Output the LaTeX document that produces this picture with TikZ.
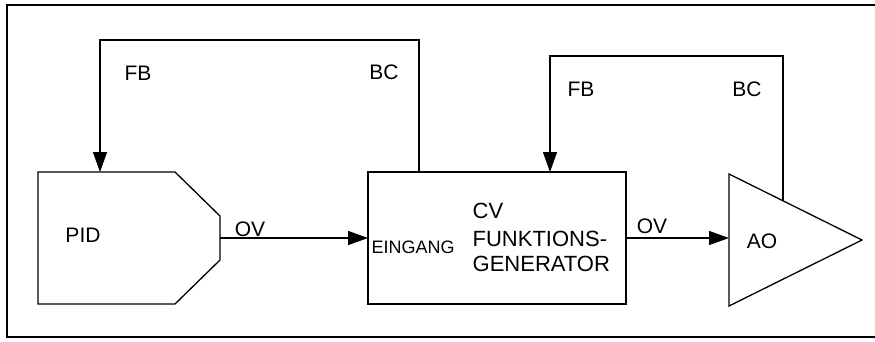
\documentclass[tikz,border=0pt]{standalone}
\usepackage{fontspec}
\setmainfont{Liberation Sans}
\usetikzlibrary{arrows.meta}

\begin{document}
\begin{tikzpicture}[x=1pt, y=-1pt, >={Triangle[length=20pt,width=14pt]},
  line width=1.3pt,
  lbl/.style={inner sep=0pt, font=\fontsize{21}{25}\selectfont},
  small/.style={inner sep=0pt, font=\fontsize{18}{21}\selectfont}]
\useasboundingbox (0,0) rectangle (875,341);

% Frame
\draw[line width=1.6pt] (875,5) -- (7,5) -- (7,337) -- (875,337);

% PID block
\draw (38,172) -- (175,172) -- (220,216) -- (220,260) -- (175,304) -- (38,304) -- cycle;
\coordinate (pidout) at (220,238);
\coordinate (pidin) at (100,172);
\node[lbl, anchor=base] (pid) at (83,242) {PID};

% CV function generator
\draw (368,172) rectangle (626,304);
\coordinate (cvin) at (368,238);
\coordinate (cvout) at (626,238);
\coordinate (cvfb) at (550,172);
\coordinate (cvbc) at (419,172);
\node[small, anchor=base west] (ein) at (371,253) {EINGANG};
\node[lbl, anchor=base west, font=\fontsize{22}{26}\selectfont] (cv) at (472,218) {CV};
\node[lbl, anchor=base west, font=\fontsize{22}{26}\selectfont] (fkt) at (472,246) {FUNKTIONS-};
\node[lbl, anchor=base west, font=\fontsize{22}{26}\selectfont] (gen) at (472,271) {GENERATOR};

% AO triangle
\draw (729,174) -- (862,240) -- (729,306) -- cycle;
\coordinate (aoin) at (729,238);
\coordinate (aobc) at (783,201);
\node[lbl, anchor=base] (ao) at (762,248) {AO};

% Signals
\draw[->] (pidout) -- (cvin);
\draw[->] (cvout) -- (aoin);
\draw[->] (cvbc) -- ++(0,-132) -| (pidin);
\draw[->] (aobc) -- ++(0,-145) -| (cvfb);

% Labels
\node[lbl, anchor=base] (ov1) at (250,236) {OV};
\node[lbl, anchor=base] (ov2) at (652,233) {OV};
\node[lbl, anchor=base] (fb1) at (138,80) {FB};
\node[lbl, anchor=base] (bc1) at (384,79) {BC};
\node[lbl, anchor=base] (fb2) at (581,96) {FB};
\node[lbl, anchor=base] (bc2) at (747,96) {BC};
\end{tikzpicture}
\end{document}
